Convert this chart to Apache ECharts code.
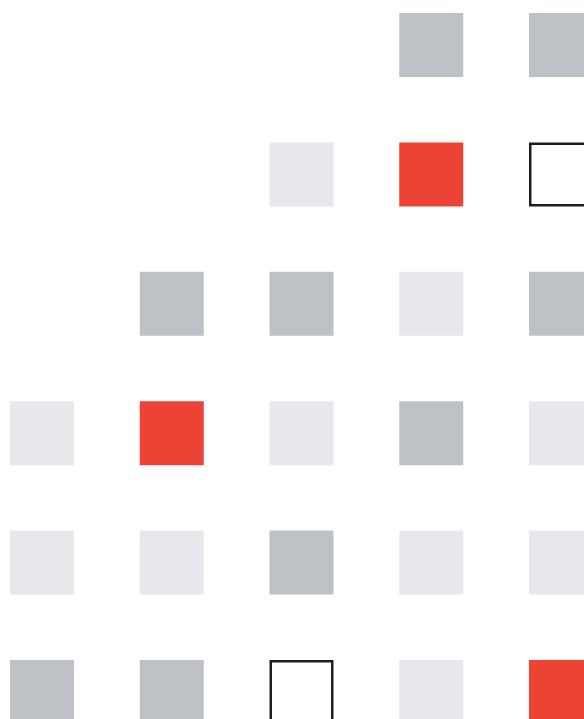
<!DOCTYPE html>
<html>
<head>
<meta charset="utf-8">
<script src="https://cdn.jsdelivr.net/npm/echarts@6/dist/echarts.min.js"></script>
<style>
  html, body { margin: 0; padding: 0; background: #ffffff; }
  #chart { width: 584px; height: 719px; }
</style>
</head>
<body>
<div id="chart"></div>
<script>
// column and row indices (left to right, top to bottom)
const columns = [0, 1, 2, 3, 4];
const rows = [0, 1, 2, 3, 4, 5];

// cell level per row: 0 empty, 1 light, 2 dark, 3 red, 4 outlined
const row1 = [0, 0, 0, 2, 2];
const row2 = [0, 0, 1, 3, 4];
const row3 = [0, 2, 2, 1, 2];
const row4 = [1, 3, 1, 2, 1];
const row5 = [1, 1, 2, 1, 1];
const row6 = [2, 2, 4, 1, 3];
const levelRows = [row1, row2, row3, row4, row5, row6];

const levelNames = ['empty', 'light', 'dark', 'red', 'outlined'];
const levelStyles = {
    light: { color: '#E7E8EC' },
    dark: { color: '#BEC1C5' },
    red: { color: '#EC4335' },
    outlined: { color: '#ffffff', borderColor: '#1e1e1e', borderWidth: 2.5 }
};

function cellsOf(level) {
    const out = [];
    levelRows.forEach((r, ri) => {
        r.forEach((v, ci) => {
            if (v === level) out.push([columns[ci], rows[ri]]);
        });
    });
    return out;
}

const chart = echarts.init(document.getElementById('chart'));

const series = [];
for (let lv = 1; lv < levelNames.length; lv++) {
    const name = levelNames[lv];
    series.push({
        name: name,
        type: 'scatter',
        symbol: 'rect',
        symbolSize: name === 'outlined' ? 61.5 : 64,
        clip: false,
        silent: true,
        itemStyle: Object.assign({ opacity: 1 }, levelStyles[name]),
        data: cellsOf(lv)
    });
}

// the visible window cuts the grid at the right and bottom edges
chart.setOption({
    animation: false,
    backgroundColor: '#ffffff',
    grid: { left: 0, top: 0, right: 0, bottom: 0, containLabel: false },
    xAxis: {
        type: 'value',
        min: -0.3237,
        max: 4.1773,
        show: false
    },
    yAxis: {
        type: 'value',
        min: -0.3478,
        max: 5.2087,
        inverse: true,
        show: false
    },
    series: series
});
</script>
</body>
</html>
